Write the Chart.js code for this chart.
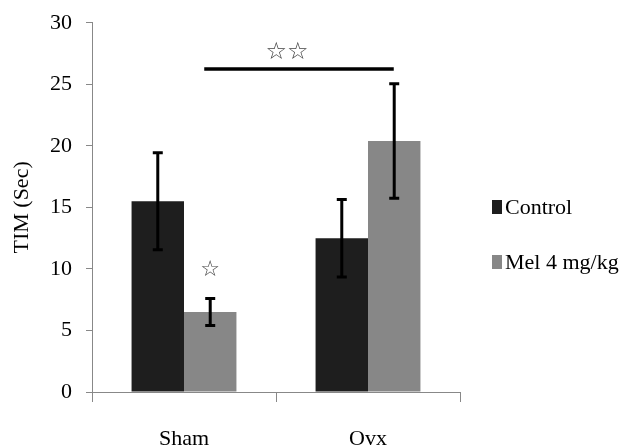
<!DOCTYPE html>
<html>
<head>
<meta charset="utf-8">
<script src="https://cdn.jsdelivr.net/npm/chart.js@4/dist/chart.umd.min.js"></script>
<style>
html,body{margin:0;padding:0;background:#fff;}
#wrap{width:624px;height:445px;position:relative;}
</style>
</head>
<body>
<div id="wrap"><canvas id="c" width="624" height="445"></canvas></div>
<script>
const categories = ['Sham', 'Ovx'];
const seriesNames = ['Control', 'Mel 4 mg/kg'];
const controlMeans = [15.5, 12.5];
const controlErr = [3.95, 3.15];
const melMeans = [6.5, 20.4];
const melErr = [1.1, 4.65];
const yTicks = [0, 5, 10, 15, 20, 25, 30];
const sigLine = {from: 0.11, to: 1.14, y: 26.25, label: '☆☆', labelX: 0.56, labelY: 27.6};
const singleStar = {category: 0, series: 1, label: '☆', offset: 2.3};

const colors = ['#1e1e1e', '#878787'];
const serif = '"Liberation Serif", "Times New Roman", serif';

const overlay = {
  id: 'overlay',
  afterDatasetsDraw(chart) {
    const ctx = chart.ctx;
    const x = chart.scales.x, y = chart.scales.y;
    const errs = [controlErr, melErr];
    ctx.save();
    ctx.strokeStyle = '#000';
    ctx.lineCap = 'butt';
    chart.data.datasets.forEach((ds, di) => {
      const meta = chart.getDatasetMeta(di);
      meta.data.forEach((bar, i) => {
        const m = ds.data[i], e = errs[di][i];
        const yt = y.getPixelForValue(m + e), yb = y.getPixelForValue(m - e);
        const cx = bar.x;
        ctx.lineWidth = 3;
        ctx.beginPath();
        ctx.moveTo(cx, yt); ctx.lineTo(cx, yb);
        ctx.moveTo(cx - 5, yt); ctx.lineTo(cx + 5, yt);
        ctx.moveTo(cx - 5, yb); ctx.lineTo(cx + 5, yb);
        ctx.stroke();
      });
    });
    // significance line
    ctx.lineWidth = 3.5;
    ctx.beginPath();
    const ly = y.getPixelForValue(sigLine.y);
    ctx.moveTo(x.getPixelForValue(sigLine.from), ly);
    ctx.lineTo(x.getPixelForValue(sigLine.to), ly);
    ctx.stroke();
    ctx.fillStyle = '#444';
    ctx.font = '24px "DejaVu Sans"';
    ctx.textAlign = 'center';
    ctx.textBaseline = 'middle';
    ctx.fillText(sigLine.label, x.getPixelForValue(sigLine.labelX), y.getPixelForValue(sigLine.labelY));
    const sb = chart.getDatasetMeta(singleStar.series).data[singleStar.category];
    const sv = melMeans[singleStar.category] + melErr[singleStar.category] + singleStar.offset;
    ctx.font = '22px "DejaVu Sans"';
    ctx.fillText(singleStar.label, sb.x, y.getPixelForValue(sv));
    // legend
    ctx.font = '22px ' + serif;
    ctx.textAlign = 'left';
    ctx.textBaseline = 'middle';
    const ly0 = [207, 262];
    seriesNames.forEach((n, i) => {
      ctx.fillStyle = colors[i];
      ctx.fillRect(492, ly0[i] - 7, 10, 14);
      ctx.fillStyle = '#000';
      ctx.fillText(n, 505, ly0[i] + 1);
    });
    ctx.restore();
  }
};

new Chart(document.getElementById('c'), {
  type: 'bar',
  data: {
    labels: categories,
    datasets: [
      {label: seriesNames[0], data: controlMeans, backgroundColor: colors[0], categoryPercentage: 0.57, barPercentage: 1.0},
      {label: seriesNames[1], data: melMeans, backgroundColor: colors[1], categoryPercentage: 0.57, barPercentage: 1.0}
    ]
  },
  options: {
    responsive: false,
    animation: false,
    layout: {padding: {top: 22, right: 164, bottom: 0, left: 0}},
    plugins: {legend: {display: false}, tooltip: {enabled: false}},
    scales: {
      x: {
        grid: {display: true, drawOnChartArea: false, drawTicks: true, tickLength: 10, color: '#888', offset: true},
        border: {display: true, color: '#888', width: 1},
        ticks: {color: '#000', font: {family: serif, size: 22}, padding: 24},
        afterFit(s) { s.height = 53; }
      },
      y: {
        min: 0, max: 30,
        afterBuildTicks(s) { s.ticks = yTicks.map(v => ({value: v})); },
        grid: {display: true, drawOnChartArea: false, drawTicks: true, tickLength: 6, color: '#888'},
        border: {display: true, color: '#888', width: 1},
        ticks: {color: '#000', font: {family: serif, size: 22, lineHeight: 0.8}, padding: 14},
        title: {display: true, text: 'TIM (Sec)', color: '#000', font: {family: serif, size: 22}, padding: {top: 9, bottom: 0}},
        afterFit(s) { s.width = 92; }
      }
    }
  },
  plugins: [overlay]
});
</script>
</body>
</html>
